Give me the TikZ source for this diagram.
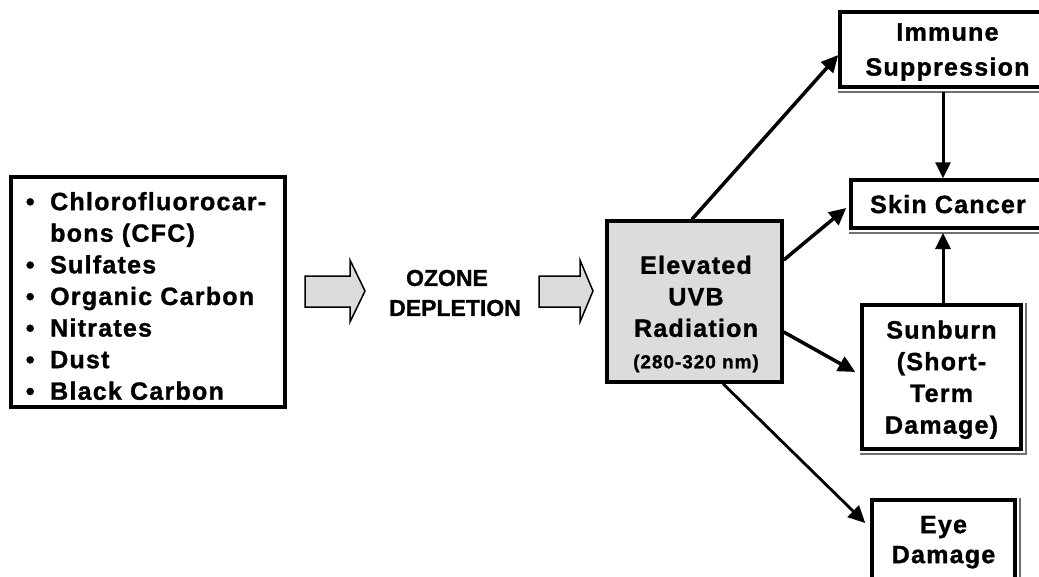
\documentclass[tikz,border=0pt]{standalone}
\usepackage{fontspec}
\setmainfont{Liberation Sans}[BoldFeatures={FakeBold=1}]
\newfontfamily\boxfont[LetterSpace=5, BoldFeatures={FakeBold=1.2}]{Liberation Sans}
\usetikzlibrary{arrows.meta}
\definecolor{lightfill}{HTML}{DCDCDC}
\definecolor{shadowgray}{HTML}{707070}
\newcommand\itm{\llap{\makebox[40pt][c]{•}}}
\newcommand\dropline[1]{\draw[shadowline] ([yshift=-3.25pt]#1.south west) -- ([xshift=3.25pt,yshift=-3.25pt]#1.south east) -- ([xshift=3.25pt]#1.north east);}
\tikzset{
  plainbox/.style={draw=black, line width=3.5pt, fill=white, inner sep=0pt},
  uvbbox/.style={draw=black, line width=3.5pt, fill=lightfill, inner sep=0pt},
  rbox/.style={draw=black, line width=3.5pt, fill=white, inner sep=0pt, align=center, text depth=0pt},
  boxtext/.style={inner sep=0pt, align=center},
  listtext/.style={inner sep=0pt, align=left, font=\boxfont\bfseries\fontsize{25}{31.6}\selectfont},
  ozonetext/.style={inner sep=0pt, align=center, font=\bfseries\fontsize{23}{30}\selectfont},
  blockarrow/.style={draw=black, line width=1.5pt, fill=lightfill, line join=miter},
  shadowline/.style={draw=shadowgray, line width=1.5pt},
  conn/.style={draw=black, line width=3.5pt, -{Triangle[length=17pt,width=16pt]}},
  thinconn/.style={draw=black, line width=2.8pt, -{Triangle[length=17pt,width=16pt]}},
  vconn/.style={draw=black, line width=3pt, -{Triangle[length=16pt,width=15pt]}},
}
\begin{document}
\begin{tikzpicture}[x=1pt,y=-1pt]
\useasboundingbox (0,0) rectangle (1039,576);
\fill[white] (0,0) rectangle (1039,576);

% source list
\node[plainbox, minimum width=274pt, minimum height=230pt] (src) at (148,292) {};
\node[listtext, anchor=west] (srclist) at (50,296) {\itm Chlorofluorocar-\\bons (CFC)\\\itm Sulfates\\\itm Organic Carbon\\\itm Nitrates\\\itm Dust\\\itm Black Carbon};

% block arrows and ozone text
\draw[blockarrow] (305,276) -- (350,276) -- (350,260) -- (365,291) -- (350,322) -- (350,307) -- (305,307) -- cycle;
\node[ozonetext] (ozone) at (447,293) {OZONE\\\hspace*{16pt}DEPLETION};
\draw[blockarrow] (539,276) -- (580,276) -- (580,260) -- (593,291) -- (580,322) -- (580,307) -- (539,307) -- cycle;

% UVB box
\node[uvbbox, minimum width=175pt, minimum height=161pt] (uvb) at (694.5,301.5) {};
\node[boxtext, font=\boxfont\bfseries\fontsize{25}{31.5}\selectfont] (uvbtext) at (696,314) {Elevated\\UVB\\Radiation\\{\fontsize{19}{31.5}\selectfont(280-320 nm)}};

% right boxes
\node[rbox, minimum width=215pt, minimum height=75pt, font=\boxfont\bfseries\fontsize{25}{35}\selectfont] (immune) at (947.5,49.5) {Immune\\Suppression};
\node[rbox, minimum width=194pt, minimum height=48pt, font=\boxfont\bfseries\fontsize{25}{31.5}\selectfont] (skin) at (948,204) {Skin Cancer};
\node[rbox, minimum width=159pt, minimum height=144pt, font=\boxfont\bfseries\fontsize{25}{31.7}\selectfont] (sunburn) at (941.5,377) {Sunburn\\(Short-\\Term\\Damage)};
\node[rbox, minimum width=143pt, minimum height=79pt, font=\boxfont\bfseries\fontsize{25}{30}\selectfont] (eye) at (943.5,539.5) {Eye\\Damage};
\dropline{immune}
\dropline{skin}
\dropline{sunburn}
\dropline{eye}

% connectors
\coordinate (xline) at (943,0);
\coordinate (skbot) at ([yshift=-3.25pt]skin.south);
\coordinate (imbot) at ([yshift=-3.25pt]immune.south);
\draw[conn] ([xshift=-2.5pt]uvb.north) -- ([yshift=-5.5pt]immune.west);
\draw[conn] ([yshift=41.5pt]uvb.east) -- ([xshift=-3pt,yshift=-4pt]skin.west);
\draw[conn] ([yshift=-30.5pt]uvb.east) -- ([xshift=-5pt,yshift=5pt]sunburn.west);
\draw[thinconn] ([xshift=28.5pt]uvb.south) -- ([xshift=-5pt,yshift=16.5pt]eye.west);
\draw[vconn] (imbot -| xline) -- (skin.north -| xline);
\draw[vconn] (sunburn.north -| xline) -- (skbot -| xline);
\end{tikzpicture}
\end{document}
